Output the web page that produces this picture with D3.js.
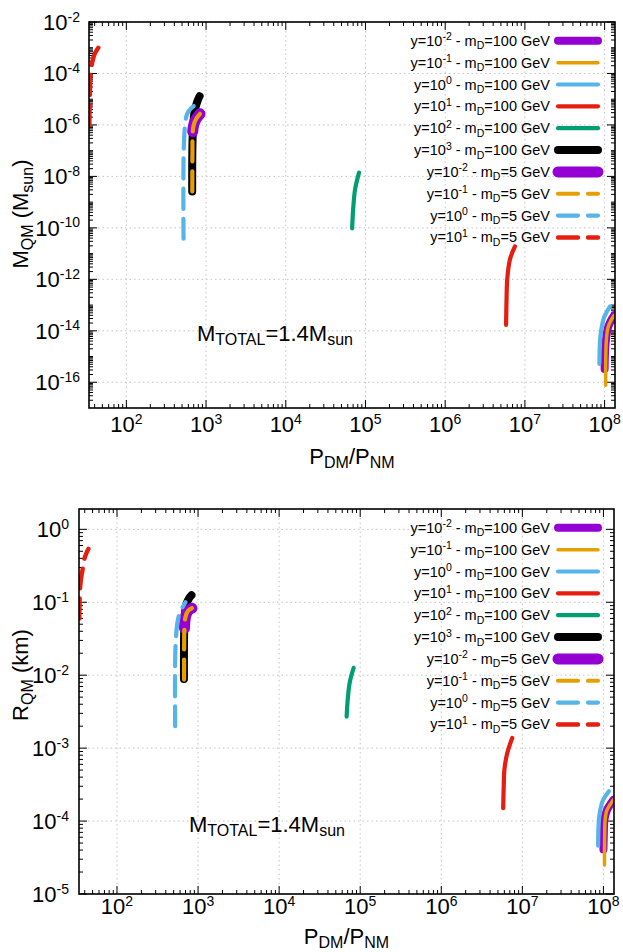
<!DOCTYPE html>
<html><head><meta charset="utf-8">
<script src="https://cdn.jsdelivr.net/npm/d3@7"></script>
<style>
body{margin:0;background:#fff}
svg{display:block}
text{font-family:"Liberation Sans",Arial,Helvetica,sans-serif;fill:#000}
</style>
</head><body>
<svg id="chart" width="623" height="952"></svg>
<script>
// ---------------- DATA ----------------
const xDomain = [34, 1.35e8];
const massDomain = [1e-17, 1e-2];
const radiusDomain = [1e-5, 1.9];
const xTickValues = [1e2, 1e3, 1e4, 1e5, 1e6, 1e7, 1e8];
const xTickExp = ["2", "3", "4", "5", "6", "7", "8"];
const massTickValues = [1e-2, 1e-4, 1e-6, 1e-8, 1e-10, 1e-12, 1e-14, 1e-16];
const massTickExp = ["-2", "-4", "-6", "-8", "-10", "-12", "-14", "-16"];
const radiusTickValues = [1e0, 1e-1, 1e-2, 1e-3, 1e-4, 1e-5];
const radiusTickExp = ["0", "-1", "-2", "-3", "-4", "-5"];

const legendYExp = ["-2", "-1", "0", "1", "2", "3", "-2", "-1", "0", "1"];
const legendMD = ["100", "100", "100", "100", "100", "100", "5", "5", "5", "5"];

// y=1e-2, mD=100 GeV
const ratio_y1em2_md100 = [1.0e8, 1.01e8, 1.03e8, 1.10e8, 1.20e8, 1.32e8];
const mass_y1em2_md100  = [3.3e-16, 1.3e-15, 3.6e-15, 1.3e-14, 2.5e-14, 4.0e-14];
const radius_y1em2_md100 = [4.1e-5, 6.3e-5, 1.05e-4, 1.4e-4, 1.66e-4, 1.95e-4];
// y=1e-1, mD=100 GeV
const ratio_y1em1_md100 = [1.03e8, 1.035e8, 1.05e8, 1.10e8, 1.20e8, 1.32e8];
const mass_y1em1_md100  = [7.6e-17, 1.0e-15, 4.0e-15, 1.3e-14, 2.5e-14, 4.0e-14];
const radius_y1em1_md100 = [2.5e-5, 6.0e-5, 1.05e-4, 1.4e-4, 1.66e-4, 1.95e-4];
// y=1e0, mD=100 GeV
const ratio_y1e0_md100 = [8.6e7, 8.8e7, 9.2e7, 9.8e7, 1.07e8, 1.17e8];
const mass_y1e0_md100  = [5.2e-16, 4.8e-15, 1.4e-14, 3.2e-14, 5.6e-14, 8.9e-14];
const radius_y1e0_md100 = [4.6e-5, 1.05e-4, 1.48e-4, 1.9e-4, 2.24e-4, 2.57e-4];
// y=1e1, mD=100 GeV
const ratio_y1e1_md100 = [5.8e6, 5.9e6, 6.0e6, 6.5e6, 7.5e6];
const mass_y1e1_md100  = [1.7e-14, 2.5e-13, 1.0e-12, 6.0e-12, 1.9e-11];
const radius_y1e1_md100 = [1.5e-4, 3.2e-4, 5.0e-4, 8.5e-4, 1.38e-3];
// y=1e2, mD=100 GeV
const ratio_y1e2_md100 = [6.8e4, 7.0e4, 7.4e4, 8.3e4];
const mass_y1e2_md100  = [9.5e-11, 5.1e-10, 3.1e-9, 1.4e-8];
const radius_y1e2_md100 = [2.7e-3, 4.5e-3, 7.8e-3, 1.26e-2];
// y=1e3, mD=100 GeV
const ratio_y1e3_md100 = [670, 673, 685, 720, 780, 830];
const mass_y1e3_md100  = [2.6e-9, 1.0e-7, 6.5e-7, 3.5e-6, 8.5e-6, 1.3e-5];
const radius_y1e3_md100 = [8.9e-3, 3.6e-2, 6.5e-2, 9.5e-2, 0.115, 0.125];
// y=1e-2, mD=5 GeV
const ratio_y1em2_md5 = [680, 700, 750, 840];
const mass_y1em2_md5  = [5.4e-7, 1.0e-6, 1.7e-6, 2.7e-6];
const radius_y1em2_md5 = [0.044, 0.063, 0.076, 0.083];
// y=1e-1, mD=5 GeV
const ratio_y1em1_md5 = [672, 675, 680, 700, 750, 840];
const mass_y1em1_md5  = [2.6e-9, 1.0e-7, 5.4e-7, 1.0e-6, 1.7e-6, 2.7e-6];
const radius_y1em1_md5 = [8.7e-3, 3.5e-2, 4.4e-2, 6.3e-2, 7.6e-2, 8.3e-2];
// y=1e0, mD=5 GeV
const ratio_y1e0_md5 = [522, 528, 565, 610, 700];
const mass_y1e0_md5  = [3.8e-11, 2.0e-7, 2.1e-6, 3.6e-6, 5.4e-6];
const radius_y1e0_md5 = [2.0e-3, 2.6e-2, 5.8e-2, 7.6e-2, 0.10];
// y=1e1, mD=5 GeV
const ratio_y1e1_md5 = [34.3, 34.8, 35.6, 37.8, 40.3, 44.5];
const mass_y1e1_md5  = [1e-6, 1e-5, 1e-4, 3.2e-4, 6e-4, 1.0e-3];
const radius_y1e1_md5 = [0.06, 0.13, 0.19, 0.29, 0.42, 0.54];

const ratios = [ratio_y1em2_md100, ratio_y1em1_md100, ratio_y1e0_md100, ratio_y1e1_md100, ratio_y1e2_md100, ratio_y1e3_md100, ratio_y1em2_md5, ratio_y1em1_md5, ratio_y1e0_md5, ratio_y1e1_md5];
const masses = [mass_y1em2_md100, mass_y1em1_md100, mass_y1e0_md100, mass_y1e1_md100, mass_y1e2_md100, mass_y1e3_md100, mass_y1em2_md5, mass_y1em1_md5, mass_y1e0_md5, mass_y1e1_md5];
const radii = [radius_y1em2_md100, radius_y1em1_md100, radius_y1e0_md100, radius_y1e1_md100, radius_y1e2_md100, radius_y1e3_md100, radius_y1em2_md5, radius_y1em1_md5, radius_y1e0_md5, radius_y1e1_md5];

// ---------------- STYLES ----------------
const colors = ["#9400d3", "#e69f00", "#56b4e9", "#e51e10", "#009e73", "#000000", "#9400d3", "#e69f00", "#56b4e9", "#e51e10"];
const widths = [8, 3.5, 4.2, 4.2, 4.2, 8, 11, 4.2, 4.2, 4.4];
const dashes = [null, null, null, null, null, null, null, "20,10", "20,10", "20,10"];
const FONT = 22;

const svg = d3.select("#chart");

function rich(textSel, parts, size, small, rise, drop) {
  let cur = 0;
  parts.forEach(p => {
    const target = p.sup ? -rise : (p.sub ? drop : 0);
    const ts = textSel.append("tspan").text(p.t).attr("dy", target - cur);
    if (p.sup || p.sub) ts.attr("font-size", small);
    cur = target;
  });
  textSel.attr("font-size", size);
  return textSel;
}

function drawPanel(cfg) {
  const {left, right, top, bottom, yDomain, yTicks, yExp, yVals, yTitle, yLabelX, xLabelY, xTitleY, yTitleY, annX, annY, id, minorY} = cfg;
  const x = d3.scaleLog().domain(xDomain).range([left, right]);
  const y = d3.scaleLog().domain(yDomain).range([bottom, top]);
  const g = svg.append("g");

  g.append("clipPath").attr("id", id).append("rect")
    .attr("x", left).attr("y", top).attr("width", right - left).attr("height", bottom - top);

  // grid
  const grid = g.append("g").attr("stroke", "#c4c4c4").attr("stroke-width", 1).attr("stroke-dasharray", "1.5,3");
  xTickValues.forEach(v => grid.append("line").attr("x1", x(v)).attr("x2", x(v)).attr("y1", top).attr("y2", bottom));
  yTicks.forEach(v => grid.append("line").attr("x1", left).attr("x2", right).attr("y1", y(v)).attr("y2", y(v)));

  // ticks
  const tk = g.append("g").attr("stroke", "#000").attr("stroke-width", 1);
  const xMinor = [];
  for (let e = 1; e <= 8; e++) for (let k = 2; k <= 9; k++) { const v = k * Math.pow(10, e); if (v > xDomain[0] && v < xDomain[1]) xMinor.push(v); }
  xMinor.forEach(v => {
    tk.append("line").attr("x1", x(v)).attr("x2", x(v)).attr("y1", bottom).attr("y2", bottom - 4);
    tk.append("line").attr("x1", x(v)).attr("x2", x(v)).attr("y1", top).attr("y2", top + 4);
  });
  xTickValues.forEach(v => {
    tk.append("line").attr("x1", x(v)).attr("x2", x(v)).attr("y1", bottom).attr("y2", bottom - 8);
    tk.append("line").attr("x1", x(v)).attr("x2", x(v)).attr("y1", top).attr("y2", top + 8);
  });
  minorY.forEach(v => {
    tk.append("line").attr("x1", left).attr("x2", left + 4).attr("y1", y(v)).attr("y2", y(v));
    tk.append("line").attr("x1", right).attr("x2", right - 4).attr("y1", y(v)).attr("y2", y(v));
  });
  yTicks.forEach(v => {
    tk.append("line").attr("x1", left).attr("x2", left + 8).attr("y1", y(v)).attr("y2", y(v));
    tk.append("line").attr("x1", right).attr("x2", right - 8).attr("y1", y(v)).attr("y2", y(v));
  });

  // curves
  const line = d3.line().curve(d3.curveCatmullRom.alpha(0.5));
  const cg = g.append("g").attr("clip-path", `url(#${id})`);
  ratios.forEach((xs, i) => {
    const pts = xs.map((v, j) => [x(v), y(yVals[i][j])]);
    const p = cg.append("path").attr("d", line(pts)).attr("fill", "none")
      .attr("stroke", colors[i]).attr("stroke-width", widths[i])
      .attr("stroke-linecap", "round").attr("stroke-linejoin", "round");
    if (dashes[i]) p.attr("stroke-dasharray", dashes[i]);
  });

  // border
  g.append("rect").attr("x", left).attr("y", top).attr("width", right - left).attr("height", bottom - top)
    .attr("fill", "none").attr("stroke", "#000").attr("stroke-width", 1.6);

  // x tick labels
  xTickValues.forEach((v, i) => {
    const t = g.append("text").attr("x", x(v)).attr("y", xLabelY).attr("text-anchor", "middle");
    rich(t, [{t: "10"}, {t: xTickExp[i], sup: true}], FONT, 14, 8.5, 0);
  });
  // y tick labels
  yTicks.forEach((v, i) => {
    const t = g.append("text").attr("x", yLabelX).attr("y", y(v) + 8).attr("text-anchor", "end");
    rich(t, [{t: "10"}, {t: yExp[i], sup: true}], FONT, 14, 8.5, 0);
  });

  // axis titles
  const xt = g.append("text").attr("x", (left + right) / 2).attr("y", xTitleY).attr("text-anchor", "middle");
  rich(xt, [{t: "P"}, {t: "DM", sub: true}, {t: "/P"}, {t: "NM", sub: true}], FONT, 16, 0, 4);
  const yt = g.append("text").attr("transform", `translate(28,${yTitleY}) rotate(-90)`).attr("text-anchor", "middle");
  rich(yt, yTitle, FONT, 16, 0, 5);

  // annotation
  const an = g.append("text").attr("x", annX).attr("y", annY);
  rich(an, [{t: "M"}, {t: "TOTAL", sub: true}, {t: "=1.4M"}, {t: "sun", sub: true}], 22, 16, 0, 4);

  // legend
  const lg = g.append("g");
  for (let i = 0; i < colors.length; i++) {
    const cy = top + 18.8 + i * 21.85;
    const t = lg.append("text").attr("x", 550).attr("y", cy + 5).attr("text-anchor", "end");
    rich(t, [{t: "y=10"}, {t: legendYExp[i], sup: true}, {t: " - m"}, {t: "D", sub: true}, {t: "=" + legendMD[i] + " GeV"}], 14.5, 10.5, 5.5, 3.5);
    const l = lg.append("line").attr("x1", 558).attr("x2", 598).attr("y1", cy).attr("y2", cy)
      .attr("stroke", colors[i]).attr("stroke-width", widths[i]).attr("stroke-linecap", "round");
    if (dashes[i]) l.attr("stroke-dasharray", dashes[i]);
  }
}

const massMinor = [];
for (let e = -17; e <= -3; e++) for (let k = 1; k <= 9; k++) {
  const v = k * Math.pow(10, e);
  if (k === 1 && (-e) % 2 === 0) continue;
  if (v > massDomain[0] && v < massDomain[1]) massMinor.push(v);
}
const radiusMinor = [];
for (let e = -5; e <= 0; e++) for (let k = 2; k <= 9; k++) {
  const v = k * Math.pow(10, e);
  if (v > radiusDomain[0] && v < radiusDomain[1]) radiusMinor.push(v);
}

drawPanel({
  id: "clipTop", left: 89, right: 615, top: 22, bottom: 408,
  yDomain: massDomain, yTicks: massTickValues, yExp: massTickExp, yVals: masses,
  yTitle: [{t: "M"}, {t: "QM", sub: true}, {t: " (M"}, {t: "sun", sub: true}, {t: ")"}],
  yLabelX: 80, xLabelY: 432, xTitleY: 464, yTitleY: 214, annX: 197, annY: 341, minorY: massMinor
});
drawPanel({
  id: "clipBot", left: 79, right: 614, top: 509, bottom: 894,
  yDomain: radiusDomain, yTicks: radiusTickValues, yExp: radiusTickExp, yVals: radii,
  yTitle: [{t: "R"}, {t: "QM", sub: true}, {t: " (km)"}],
  yLabelX: 69, xLabelY: 914, xTitleY: 944, yTitleY: 675, annX: 189, annY: 832, minorY: radiusMinor
});
</script>
</body></html>
